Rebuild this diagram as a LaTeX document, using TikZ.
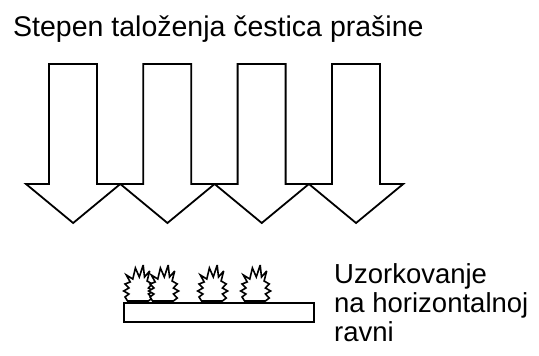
\documentclass[tikz,border=0pt]{standalone}
\usepackage{fontspec}
\setmainfont{Liberation Sans}

\begin{document}
\begin{tikzpicture}[x=1pt,y=-1pt,line join=miter]
  \tikzstyle{every node}=[inner sep=0pt,font=\fontsize{27.5}{29}\selectfont]
  \tikzstyle{arrowbox}=[draw=black,line width=1.8pt,fill=white]
  \tikzstyle{dust}=[draw=black,line width=1.6pt,fill=white,line join=miter,miter limit=4]
  \useasboundingbox (0,0) rectangle (539,356);

  \node[anchor=base west,font=\fontsize{28.5}{30}\selectfont] (title) at (13,36)
    {Stepen taloženja čestica prašine};

  % four falling arrows
  \foreach \i in {0,1,2,3}{
    \pgfmathsetmacro{\xa}{26+94.3*\i}
    \draw[arrowbox] (\xa,184) -- ++(23,0) -- ++(0,-120) -- ++(48,0) -- ++(0,120)
      -- ++(23.3,0) -- ++(-47.15,39) -- cycle;
  }

  % plate with settled particles
  \node[draw,line width=1.6pt,minimum width=190pt,minimum height=19pt,anchor=north west]
    (plate) at (123,302) {};
  \foreach \cx in {138,163,212,255}{
    \begin{scope}[shift={(\cx,301)},xscale=1.3]
    \draw[dust] (-8,0) -- ++(-2,-4) -- ++(3,-3) -- ++(-4,-3) -- ++(4,-3) -- ++(-3,-4)
      -- ++(4,-2) -- ++(-3,-7) -- ++(5,4) -- ++(2,-11) -- ++(3,9) -- ++(3,-12)
      -- ++(1,12) -- ++(4,-6) -- ++(-2,10) -- ++(4,3) -- ++(-3,4) -- ++(4,3)
      -- ++(-4,3) -- ++(3,4) -- ++(-3,3) -- cycle;
    \end{scope}
  }

  \node[anchor=base west,align=left] (label) at (334,341)
    {Uzorkovanje\\na horizontalnoj\\ravni};
\end{tikzpicture}
\end{document}
